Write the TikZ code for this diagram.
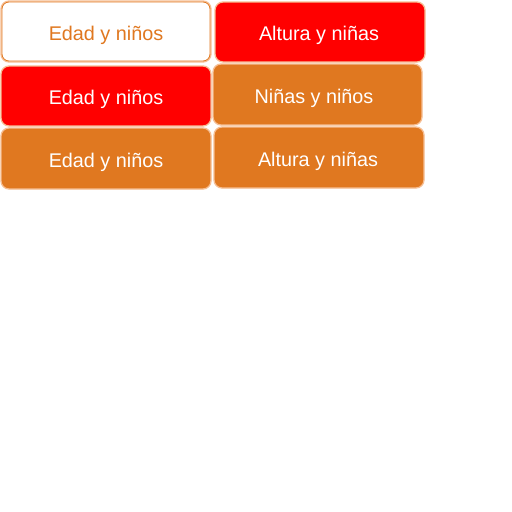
\documentclass[tikz,border=0pt]{standalone}
\usepackage{fontspec}
\setmainfont{Liberation Sans}
\definecolor{orfill}{HTML}{E07820}
\definecolor{oredge}{HTML}{F6BE93}
\definecolor{redfill}{HTML}{FF0000}
\begin{document}
\begin{tikzpicture}[x=1pt,y=-1pt,
  cell/.style={draw=oredge,line width=1.3pt,rounded corners=8pt},
  whitecell/.style={cell,fill=white},
  redcell/.style={cell,fill=redfill},
  orcell/.style={cell,fill=orfill},
  lbl/.style={text=white,font=\fontsize{19.8}{22}\selectfont}]
\useasboundingbox (0,0) rectangle (512,512);
\draw[whitecell] (1,1) rectangle (211,62);
\draw[orfill,line width=0.8pt,rounded corners=7pt] (2,2) rectangle (210,61);
\node[lbl,text=orfill] (t1) at (106,35.5) {Edad y niños};
\draw[redcell] (215,2) rectangle (425,62);
\node[lbl] (t2) at (319,35.5) {Altura y niñas};
\draw[redcell] (1,66) rectangle (211,126);
\node[lbl] (t3) at (106,99.5) {Edad y niños};
\draw[orcell] (213,64) rectangle (422,125);
\node[lbl] (t4) at (314,98.5) {Niñas y niños};
\draw[orcell] (1,128) rectangle (211,189);
\node[lbl] (t5) at (106,162.5) {Edad y niños};
\draw[orcell] (214,127) rectangle (424,188);
\node[lbl] (t6) at (318,161.5) {Altura y niñas};
\end{tikzpicture}
\end{document}
